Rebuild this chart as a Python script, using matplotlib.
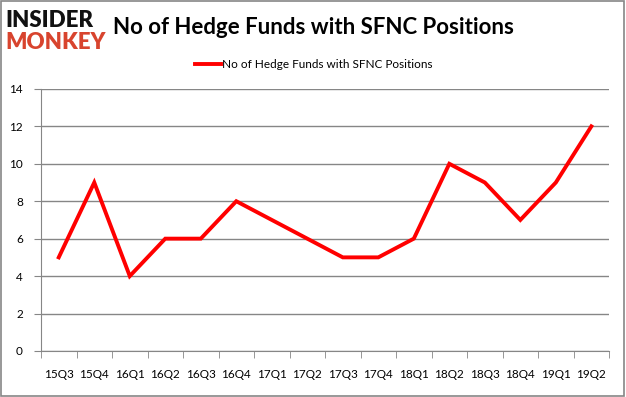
import matplotlib
matplotlib.use("Agg")
import matplotlib.pyplot as plt
from matplotlib.patches import Rectangle

quarters = ["15Q3", "15Q4", "16Q1", "16Q2", "16Q3", "16Q4", "17Q1", "17Q2",
            "17Q3", "17Q4", "18Q1", "18Q2", "18Q3", "18Q4", "19Q1", "19Q2"]
funds = [5, 9, 4, 6, 6, 8, 7, 6, 5, 5, 6, 10, 9, 7, 9, 12]
y_ticks = [0, 2, 4, 6, 8, 10, 12, 14]

plt.rcParams['font.family'] = ['Lato', 'DejaVu Sans']

fig = plt.figure(figsize=(6.26, 3.97), dpi=100)
ax = fig.add_axes([0.0655, 0.116, 0.9075, 0.66])

x = list(range(len(quarters)))
ax.plot(x, funds, color="#ff0000", linewidth=2.8, solid_joinstyle="miter",
        label="No of Hedge Funds with SFNC Positions")

ax.set_xlim(-0.5, len(quarters) - 0.5)
ax.set_ylim(0, 14)
ax.set_yticks(y_ticks)
ax.set_yticklabels([str(v) for v in y_ticks], fontsize=8.5)
ax.set_xticks(x)
ax.set_xticklabels(quarters, fontsize=8.5)
ax.set_xticks([i - 0.5 for i in range(len(quarters) + 1)], minor=True)
ax.tick_params(axis="x", which="major", length=0, pad=13)
ax.tick_params(axis="x", which="minor", length=5, color="#868686")
ax.tick_params(axis="y", length=5, color="#868686", pad=8)
ax.grid(axis="y", color="#868686", linewidth=1)
ax.set_axisbelow(True)
for s in ["top", "right"]:
    ax.spines[s].set_visible(False)
for s in ["left", "bottom"]:
    ax.spines[s].set_color("#868686")

ax.legend(loc="lower center", bbox_to_anchor=(0.48, 1.03), frameon=False,
          fontsize=8.5, handlelength=2.2, handletextpad=0.1)

fig.text(0.5, 0.93, "No of Hedge Funds with SFNC Positions", fontsize=16,
         fontweight="bold", va="center", ha="center")
fig.text(0.008, 0.948, "INSIDER", fontsize=16, fontweight="heavy",
         color="#111111", va="center", ha="left")
fig.text(0.008, 0.893, "MONKEY", fontsize=16, fontweight="heavy",
         color="#d8442e", va="center", ha="left")

fig.patches.append(Rectangle((0.002, 0.003), 0.995, 0.994, transform=fig.transFigure,
                             fill=False, edgecolor="#868686", linewidth=1.2))

fig.savefig("out.png", dpi=100)
